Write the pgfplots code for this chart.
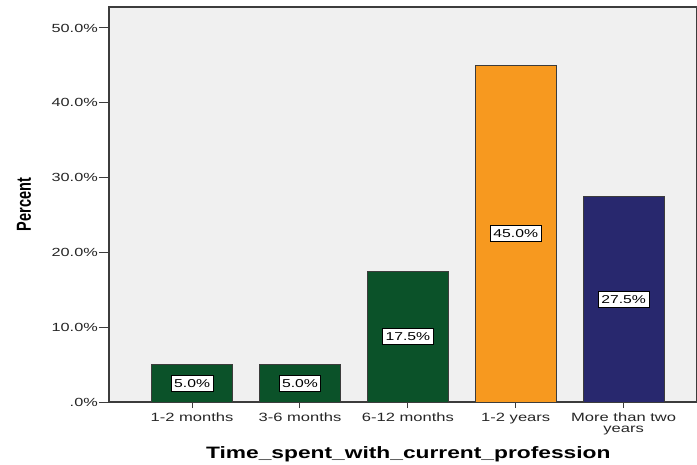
\documentclass[border=0pt]{standalone}
\usepackage{fontspec}
\setmainfont{Liberation Sans}[FakeStretch=1.38]
\newfontfamily\plainsans{Liberation Sans}
\usepackage{graphicx}
\usepackage{pgfplots}
\pgfplotsset{compat=1.18}
\definecolor{bggray}{HTML}{F0F0F0}
\definecolor{bargreen}{HTML}{0B5229}
\definecolor{barorange}{HTML}{F7991F}
\definecolor{barnavy}{HTML}{28286E}
\definecolor{framegray}{HTML}{3C3C3C}
\begin{document}
\begin{tikzpicture}
\begin{axis}[
  scale only axis, width=588pt, height=395pt,
  xmin=-0.77, xmax=4.68, ymin=0, ymax=52.8,
  axis background/.style={fill=bggray},
  axis line style={framegray, line width=1.5pt},
  tick align=outside,
  tick style={framegray, line width=1pt},
  major tick length=10pt,
  xtick style={/pgfplots/major tick length=6pt},
  xtick pos=bottom, ytick pos=left,
  xtick={0,1,2,3,4},
  xticklabels={1-2 months, 3-6 months, 6-12 months, 1-2 years, {More than two\\years}},
  x tick label style={align=center, font=\fontsize{12}{11}\selectfont, inner sep=1pt, text=black!85},
  ytick={0,10,20,30,40,50},
  yticklabels={.0\%,10.0\%,20.0\%,30.0\%,40.0\%,50.0\%},
  y tick label style={font=\fontsize{11.8}{12}\selectfont, inner sep=1pt, text=black!85},
  xlabel={Time\_spent\_with\_current\_profession},
  xlabel style={font=\fontsize{16.5}{17}\selectfont\bfseries, at={(axis description cs:0.509,0)}, anchor=base, yshift=-56pt},
  ylabel={\scalebox{1}[1.4]{\plainsans\bfseries Percent}},
  ylabel style={font=\fontsize{14.5}{15}\selectfont, at={(axis description cs:-0.1446,0.5)}, anchor=center, rotate=0},
  clip=false,
]
\addplot[ybar, bar width=81pt, fill=bargreen, draw=framegray, line width=0.8pt] coordinates {(0,5) (1,5) (2,17.5)};
\addplot[ybar, bar width=81pt, fill=barorange, draw=framegray, line width=0.8pt] coordinates {(3,45)};
\addplot[ybar, bar width=81pt, fill=barnavy, draw=framegray, line width=0.8pt] coordinates {(4,27.5)};
\addplot[draw=none, nodes near coords, point meta=explicit symbolic,
  every node near coord/.append style={anchor=center, fill=white, draw=black, line width=0.8pt,
    inner xsep=3pt, inner ysep=3.5pt, text height=8.5pt, text depth=0.5pt,
    font=\fontsize{11.4}{12}\selectfont}]
  coordinates {(0,2.5) [5.0\%] (1,2.5) [5.0\%] (2,8.75) [17.5\%] (3,22.5) [45.0\%] (4,13.75) [27.5\%]};
\end{axis}
\pgfresetboundingbox
\path[use as bounding box] ([shift={(-109pt,-62pt)}]current axis.south west) rectangle ([shift={(0pt,7pt)}]current axis.north east);
\end{tikzpicture}
\end{document}
